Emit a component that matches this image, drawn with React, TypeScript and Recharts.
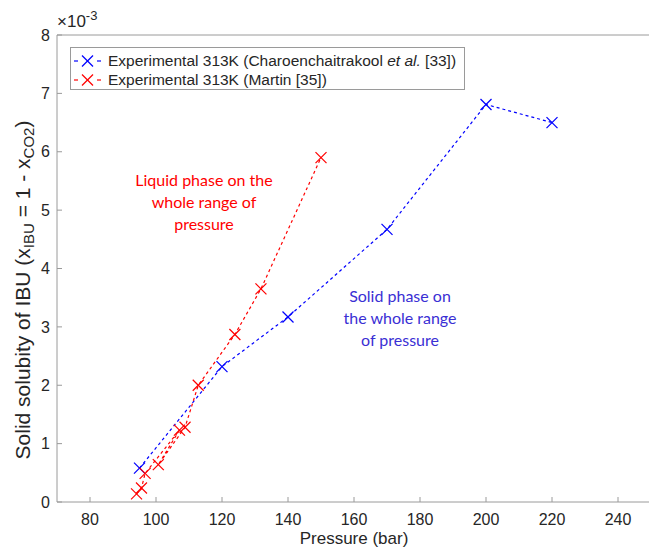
import { Scatter, ScatterChart, XAxis, YAxis } from "recharts";

// Charoenchaitrakool et al. [33], 313 K
const BLUE_PRESSURE = [95, 120, 140, 170, 200, 220];
const BLUE_SOLUBILITY = [0.58, 2.32, 3.17, 4.67, 6.81, 6.5];

// Martin [35], 313 K (kept in measurement order, the line follows it)
const RED_PRESSURE = [94.1, 95.6, 96.7, 107.1, 100.7, 108.8, 112.8, 123.9, 131.8, 150];
const RED_SOLUBILITY = [0.14, 0.24, 0.49, 1.23, 0.64, 1.28, 2.0, 2.87, 3.65, 5.9];

const X_TICKS = [80, 100, 120, 140, 160, 180, 200, 220, 240];
const Y_TICKS = [0, 1, 2, 3, 4, 5, 6, 7, 8];

const LIQUID_NOTE = ["Liquid phase on the", "whole range of", "pressure"];
const SOLID_NOTE = ["Solid phase on", "the whole range", "of pressure"];

const BLUE = "#0000ff";
const RED = "#ff0000";
const AXIS = "#9a9a9a";
const TEXT = "#262626";
const FONT = "'Liberation Sans', Arial, sans-serif";

const blueData = BLUE_PRESSURE.map((p, i) => ({ p, s: BLUE_SOLUBILITY[i] }));
const redData = RED_PRESSURE.map((p, i) => ({ p, s: RED_SOLUBILITY[i] }));

const tickStyle = { fontFamily: FONT, fontSize: 16, fill: TEXT };
const blank = () => "";

function CrossMark({ cx, cy, color }: { cx?: number; cy?: number; color: string }) {
  if (cx == null || cy == null) return null;
  const r = 5.5;
  return (
    <g>
      <line x1={cx - r} y1={cy - r} x2={cx + r} y2={cy + r} stroke={color} strokeWidth={1.2} />
      <line x1={cx - r} y1={cy + r} x2={cx + r} y2={cy - r} stroke={color} strokeWidth={1.2} />
    </g>
  );
}

function LegendIcon({ color }: { color: string }) {
  return (
    <svg width={30} height={14} style={{ display: "block" }}>
      <line x1={1} y1={7} x2={5} y2={7} stroke={color} strokeWidth={1.2} />
      <line x1={24} y1={7} x2={28} y2={7} stroke={color} strokeWidth={1.2} />
      <CrossMark cx={14.5} cy={7} color={color} />
    </svg>
  );
}

function YLabel({ viewBox }: any) {
  const cx = viewBox.x + 22;
  const cy = 290;
  return (
    <text
      x={cx}
      y={cy}
      transform={`rotate(-90 ${cx} ${cy})`}
      textAnchor="middle"
      dominantBaseline="central"
      fontFamily={FONT}
      fontSize={21}
      fill={TEXT}
    >
      Solid solubity of IBU (x
      <tspan fontSize={15} dy={6}>IBU</tspan>
      <tspan dy={-6}> = 1 - x</tspan>
      <tspan fontSize={15} dy={6}>CO2</tspan>
      <tspan dy={-6}>)</tspan>
    </text>
  );
}

function XLabel({ viewBox }: any) {
  return (
    <text x={viewBox.x + viewBox.width / 2} y={viewBox.y + 42} textAnchor="middle" fontFamily={FONT} fontSize={17} fill={TEXT}>
      Pressure (bar)
    </text>
  );
}

function Note({ lines, color, x, y }: { lines: string[]; color: string; x: number; y: number }) {
  return (
    <div
      style={{
        position: "absolute",
        left: x - 100,
        top: y,
        width: 200,
        textAlign: "center",
        color,
        fontFamily: "Lato, 'Open Sans', sans-serif",
        fontSize: 16,
        lineHeight: "22px",
      }}
    >
      {lines.map((l) => (
        <div key={l}>{l}</div>
      ))}
    </div>
  );
}

export default function App() {
  return (
    <div style={{ position: "fixed", left: 0, top: 0, width: 649, height: 551, overflow: "hidden", background: "#fff" }}>
      <ScatterChart width={660} height={551} margin={{ top: 0, right: 0, bottom: 0, left: 0 }}>
        <XAxis
          dataKey="p"
          type="number"
          domain={[70, 250]}
          ticks={X_TICKS}
          height={49}
          tickSize={-5}
          tickMargin={17}
          tick={tickStyle}
          stroke={AXIS}
          label={<XLabel />}
        />
        <XAxis
          xAxisId="top"
          orientation="top"
          type="number"
          domain={[70, 250]}
          ticks={X_TICKS}
          height={35}
          tickSize={-5}
          tickFormatter={blank}
          stroke={AXIS}
        />
        <YAxis
          dataKey="s"
          type="number"
          domain={[0, 8]}
          ticks={Y_TICKS}
          width={57}
          tickSize={-5}
          tickMargin={12}
          tick={tickStyle}
          stroke={AXIS}
          label={<YLabel />}
        />
        <YAxis
          yAxisId="right"
          orientation="right"
          type="number"
          domain={[0, 8]}
          ticks={Y_TICKS}
          width={9}
          tickSize={-5}
          tickFormatter={blank}
          stroke={AXIS}
        />
        <Scatter
          data={blueData}
          isAnimationActive={false}
          line={{ stroke: BLUE, strokeWidth: 1.2, strokeDasharray: "3 3" }}
          lineType="joint"
          shape={(props: any) => <CrossMark cx={props.cx} cy={props.cy} color={BLUE} />}
        />
        <Scatter
          data={redData}
          isAnimationActive={false}
          line={{ stroke: RED, strokeWidth: 1.2, strokeDasharray: "3 3" }}
          lineType="joint"
          shape={(props: any) => <CrossMark cx={props.cx} cy={props.cy} color={RED} />}
        />
      </ScatterChart>

      <div style={{ position: "absolute", left: 57, top: 12, fontFamily: FONT, fontSize: 17, color: TEXT, lineHeight: "20px" }}>
        ×10<sup style={{ fontSize: 13, verticalAlign: 7, lineHeight: 0 }}>-3</sup>
      </div>

      <div
        style={{
          position: "absolute",
          left: 70,
          top: 47,
          width: 395,
          height: 43,
          border: `1px solid ${AXIS}`,
          background: "#fff",
          fontFamily: FONT,
          fontSize: 15.5,
          color: TEXT,
          padding: "3px 0 0 2px",
          boxSizing: "border-box",
        }}
      >
        {[
          { color: BLUE, text: <>Experimental 313K (Charoenchaitrakool <i>et al.</i> [33])</> },
          { color: RED, text: <>Experimental 313K (Martin [35])</> },
        ].map((row, i) => (
          <div key={i} style={{ display: "flex", alignItems: "center", height: 19.5 }}>
            <LegendIcon color={row.color} />
            <span style={{ marginLeft: 5, whiteSpace: "nowrap" }}>{row.text}</span>
          </div>
        ))}
      </div>

      <Note lines={LIQUID_NOTE} color={RED} x={204} y={169} />
      <Note lines={SOLID_NOTE} color="#3a2fd4" x={400} y={285} />
    </div>
  );
}
